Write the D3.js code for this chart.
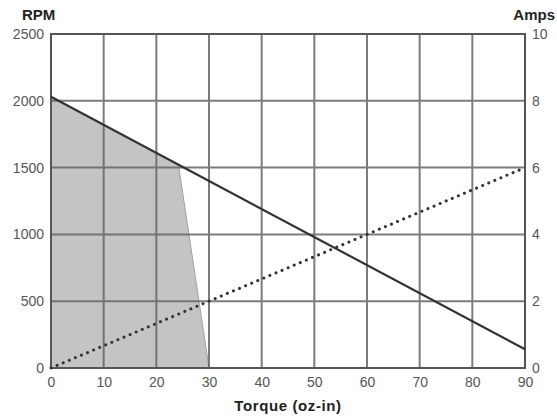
<!DOCTYPE html>
<html><head><meta charset="utf-8">
<script src="https://cdn.jsdelivr.net/npm/d3@7"></script>
<style>body{margin:0;background:#fff}svg{display:block}text{font-family:"Liberation Sans",Arial,sans-serif}</style>
</head><body><svg id="c" width="557" height="420"></svg>
<script>
const torqueTicks=[0,10,20,30,40,50,60,70,80,90];
const rpmTicks=[0,500,1000,1500,2000,2500];
const ampTicks=[0,2,4,6,8,10];
const rpmTorque=[0,90];
const rpmValues=[2030,140];
const ampTorque=[0,90];
const ampValues=[0,6];
const areaTorque=[0,0,24.2,30];
const areaRpm=[0,2030,1522,0];

const svg=d3.select("#c");
const m={l:51,r:525,t:34,b:368};
const x=d3.scaleLinear().domain([0,90]).range([m.l,m.r]);
const y=d3.scaleLinear().domain([0,2500]).range([m.b,m.t]);
const y2=d3.scaleLinear().domain([0,10]).range([m.b,m.t]);

svg.append("path").datum(areaTorque.map((t,i)=>[t,areaRpm[i]]))
 .attr("d",d3.line().x(d=>x(d[0])).y(d=>y(d[1])).curve(d3.curveLinearClosed))
 .attr("fill","#c4c4c4").attr("stroke","#a0a0a0").attr("stroke-width",1);

const g=svg.append("g").attr("stroke","#666").attr("stroke-width",2).attr("opacity",0.85);
torqueTicks.forEach(t=>g.append("line").attr("x1",x(t)).attr("x2",x(t)).attr("y1",m.t).attr("y2",m.b));
rpmTicks.forEach(t=>g.append("line").attr("x1",m.l).attr("x2",m.r).attr("y1",y(t)).attr("y2",y(t)));
svg.append("rect").attr("x",m.l).attr("y",m.t).attr("width",m.r-m.l).attr("height",m.b-m.t)
 .attr("fill","none").attr("stroke","#555").attr("stroke-width",2);

svg.append("path").datum(rpmTorque.map((t,i)=>[t,rpmValues[i]]))
 .attr("d",d3.line().x(d=>x(d[0])).y(d=>y(d[1])))
 .attr("stroke","#333").attr("stroke-width",2.2).attr("fill","none");
svg.append("path").datum(ampTorque.map((t,i)=>[t,ampValues[i]]))
 .attr("d",d3.line().x(d=>x(d[0])).y(d=>y2(d[1])))
 .attr("stroke","#333").attr("stroke-width",3).attr("stroke-dasharray","0.1 6.5").attr("stroke-linecap","round").attr("fill","none");

const fmt=d3.format("d");
const ax=d3.axisBottom(x).tickValues(torqueTicks).tickFormat(fmt).tickSize(0).tickPadding(9);
const ayl=d3.axisLeft(y).tickValues(rpmTicks).tickFormat(fmt).tickSize(0).tickPadding(7);
const ayr=d3.axisRight(y2).tickValues(ampTicks).tickFormat(fmt).tickSize(0).tickPadding(7);
function style(sel){sel.select(".domain").remove();sel.selectAll("text").attr("font-size",14).attr("fill","#555").attr("font-family","'Liberation Sans',Arial,sans-serif");}
svg.append("g").attr("transform",`translate(0,${m.b})`).call(ax).call(style);
svg.append("g").attr("transform",`translate(${m.l},0)`).call(ayl).call(style);
svg.append("g").attr("transform",`translate(${m.r},0)`).call(ayr).call(style);

svg.append("text").attr("x",22).attr("y",20).attr("font-size",15).attr("font-weight","bold").attr("fill","#222").text("RPM");
svg.append("text").attr("x",555).attr("y",20).attr("text-anchor","end").attr("font-size",15).attr("font-weight","bold").attr("fill","#222").text("Amps");
svg.append("text").attr("x",288).attr("y",411).attr("text-anchor","middle").attr("font-size",15).attr("font-weight","bold").attr("fill","#222").attr("letter-spacing",0.6).text("Torque (oz-in)");
</script></body></html>
